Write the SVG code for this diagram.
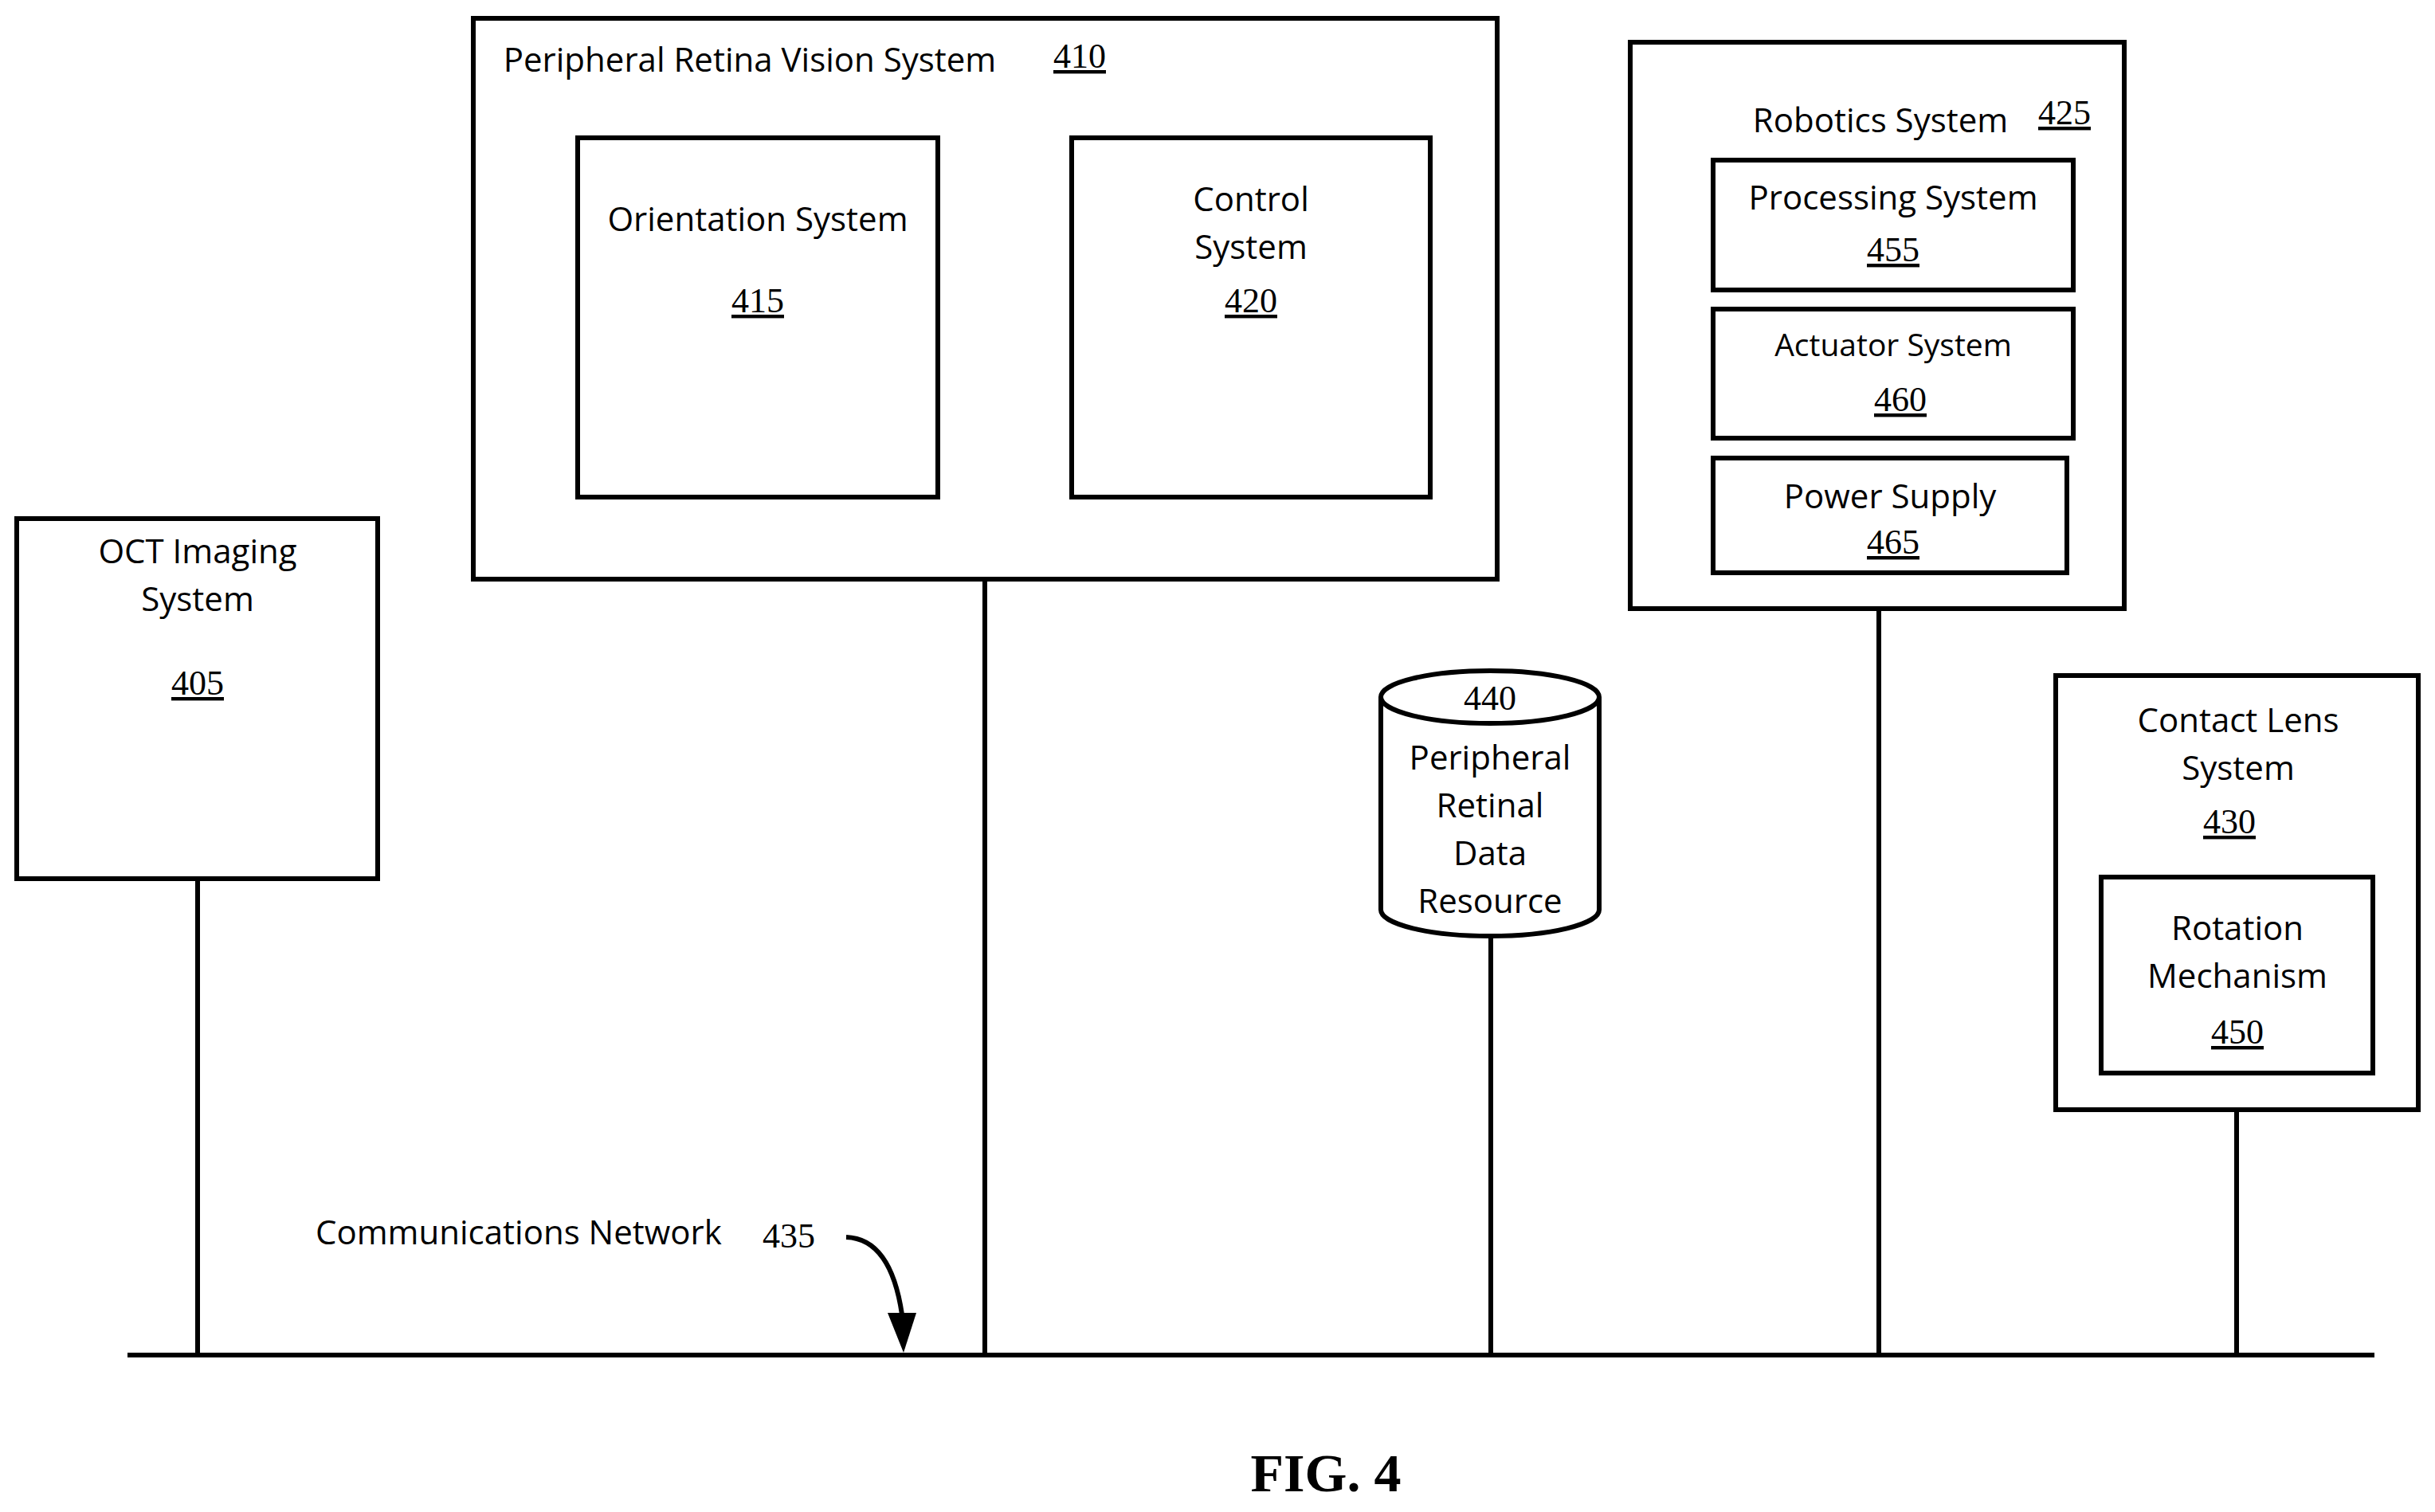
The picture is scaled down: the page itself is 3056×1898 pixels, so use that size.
<svg xmlns="http://www.w3.org/2000/svg" width="3056" height="1898" viewBox="0 0 3056 1898">
<style>
.b{fill:#fff;stroke:#000;stroke-width:6}
.l{fill:none;stroke:#000;stroke-width:6}
.t{font-family:"Open Sans","Liberation Sans",sans-serif;font-size:42px;fill:#000;text-anchor:middle}
.n{font-family:"Liberation Serif",serif;font-size:44px;fill:#000;text-anchor:middle;text-decoration:underline}
</style>
<defs><marker id="ah" markerWidth="10" markerHeight="10" refX="8" refY="5" orient="auto" markerUnits="userSpaceOnUse" viewBox="0 0 10 10"><path d="M0,0 L10,5 L0,10 Z"/></marker></defs>
<rect width="3056" height="1898" fill="#fff"/>
<g id="connectors">
<line class="l" x1="160" y1="1701" x2="2980" y2="1701"/>
<line class="l" x1="248" y1="1103" x2="248" y2="1701"/>
<line class="l" x1="1236" y1="727" x2="1236" y2="1701"/>
<line class="l" x1="1871" y1="1175" x2="1871" y2="1701"/>
<line class="l" x1="2358" y1="764" x2="2358" y2="1701"/>
<line class="l" x1="2807" y1="1393" x2="2807" y2="1701"/>
<path class="l" d="M1062,1553 Q1118,1555 1132,1650"/>
<path d="M1114,1648 L1150,1648 L1134,1698 Z"/>
</g>
<g id="n405"><rect class="b" x="21" y="651" width="453" height="452"/>
<text class="t" x="248" y="707">OCT Imaging</text><text class="t" x="248" y="767">System</text><text class="n" x="248" y="872">405</text></g>
<g id="n410"><rect class="b" x="594" y="23" width="1285" height="704"/>
<text class="t" x="941" y="90">Peripheral Retina Vision System</text><text class="n" x="1355" y="85">410</text></g>
<g id="n415"><rect class="b" x="725" y="173" width="452" height="451"/>
<text class="t" x="951" y="290">Orientation System</text><text class="n" x="951" y="392">415</text></g>
<g id="n420"><rect class="b" x="1345" y="173" width="450" height="451"/>
<text class="t" x="1570" y="265">Control</text><text class="t" x="1570" y="325">System</text><text class="n" x="1570" y="392">420</text></g>
<g id="n425"><rect class="b" x="2046" y="53" width="620" height="711"/>
<text class="t" x="2360" y="166">Robotics System</text><text class="n" x="2591" y="156">425</text></g>
<g id="n455"><rect class="b" x="2150" y="201" width="452" height="163"/>
<text class="t" x="2376" y="263">Processing System</text><text class="n" x="2376" y="328">455</text></g>
<g id="n460"><rect class="b" x="2150" y="388" width="452" height="162"/>
<text class="t" x="2376" y="447" style="font-size:39px">Actuator System</text><text class="n" x="2385" y="516">460</text></g>
<g id="n465"><rect class="b" x="2150" y="575" width="444" height="144"/>
<text class="t" x="2372" y="638">Power Supply</text><text class="n" x="2376" y="695">465</text></g>
<g id="n440"><path class="b" d="M1733,875 L1733,1142 A137,33 0 0 0 2007,1142 L2007,875"/>
<ellipse class="b" cx="1870" cy="875" rx="137" ry="33"/>
<text x="1870" y="891" style="font-family:'Liberation Serif',serif;font-size:44px;text-anchor:middle">440</text>
<text class="t" x="1870" y="966">Peripheral</text><text class="t" x="1870" y="1026">Retinal</text><text class="t" x="1870" y="1086">Data</text><text class="t" x="1870" y="1146">Resource</text></g>
<g id="n430"><rect class="b" x="2580" y="848" width="455" height="545"/>
<text class="t" x="2809" y="919">Contact Lens</text><text class="t" x="2809" y="979">System</text><text class="n" x="2798" y="1046">430</text></g>
<g id="n450"><rect class="b" x="2637" y="1101" width="341" height="246"/>
<text class="t" x="2808" y="1180">Rotation</text><text class="t" x="2808" y="1240">Mechanism</text><text class="n" x="2808" y="1310">450</text></g>
<g id="labels">
<text class="t" x="396" y="1562" style="text-anchor:start">Communications Network</text>
<text x="990" y="1566" style="font-family:'Liberation Serif',serif;font-size:44px;text-anchor:middle">435</text>
<text x="1664" y="1872" style="font-family:'Liberation Serif',serif;font-size:68px;font-weight:bold;text-anchor:middle">FIG. 4</text>
</g>
</svg>
